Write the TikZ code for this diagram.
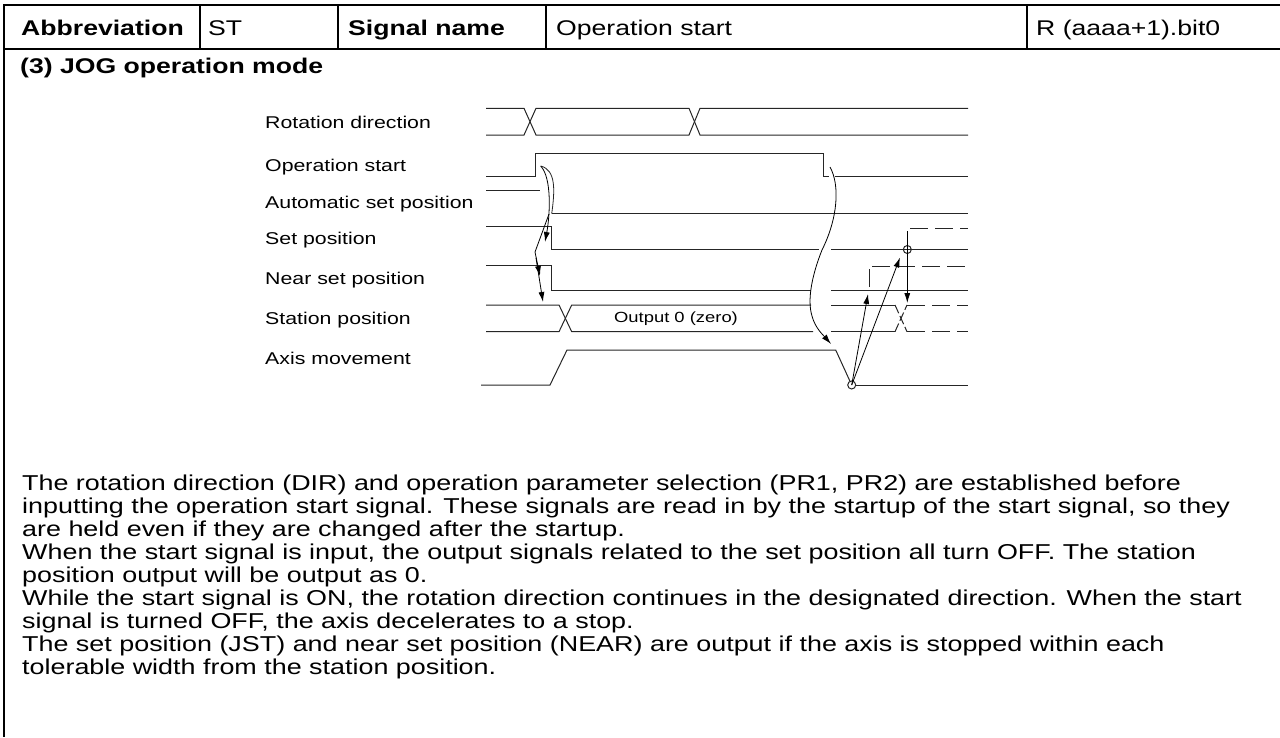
\documentclass[tikz,border=0pt]{standalone}
\usepackage{fontspec}
\setmainfont{Liberation Sans}
\usepackage{graphicx}
\usetikzlibrary{arrows.meta}
\newcommand{\sqz}[1]{\scalebox{1}[0.8]{#1}}
\begin{document}
\begin{tikzpicture}[x=1pt,y=-1pt,
  wave/.style={line width=1pt, black!85},
  frameline/.style={line width=2pt},
  divider/.style={line width=1.3pt},
  dashwave/.style={wave, dash pattern=on 18pt off 7pt},
  arr/.style={line width=0.8pt, -{Latex[length=10pt,width=6pt]}},
  hdr/.style={anchor=base west, inner sep=0pt, font=\fontsize{26.6}{30}\selectfont},
  hdrb/.style={anchor=base west, inner sep=0pt, font=\fontsize{26.6}{30}\selectfont\bfseries},
  lbl/.style={anchor=base west, inner sep=0pt, font=\fontsize{21.3}{24}\selectfont},
  bodytxt/.style={anchor=base west, inner sep=0pt, font=\fontsize{26.9}{30}\selectfont},
]
\useasboundingbox (0,0) rectangle (1280,737);
% frame
\draw[frameline] (1280,5) -- (4,5) -- (4,737);
\draw[frameline] (4,49) -- (1280,49);
\draw[divider] (200,5) -- (200,49);
\draw[divider] (338,5) -- (338,49);
\draw[divider] (546,5) -- (546,49);
\draw[divider] (1027,5) -- (1027,49);
\node[hdrb] (h1) at (21,35) {\sqz{Abbreviation}};
\node[hdr] (h2) at (208,35) {\sqz{ST}};
\node[hdrb] (h3) at (348,35) {\sqz{Signal name}};
\node[hdr] (h4) at (556,35) {\sqz{Operation start}};
\node[hdr] (h5) at (1036,35) {\sqz{R (aaaa+1).bit0}};
\node[hdrb] (title) at (20,73) {\sqz{(3) JOG operation mode}};
% labels
\node[lbl] (l1) at (265,128) {\sqz{Rotation direction}};
\node[lbl] (l2) at (265,171) {\sqz{Operation start}};
\node[lbl] (l3) at (265,208) {\sqz{Automatic set position}};
\node[lbl] (l4) at (265,244) {\sqz{Set position}};
\node[lbl] (l5) at (265,284) {\sqz{Near set position}};
\node[lbl] (l6) at (265,324) {\sqz{Station position}};
\node[lbl] (l7) at (265,364) {\sqz{Axis movement}};
% rotation direction
\draw[wave] (486,108.3) -- (524,108.3) -- (536,135) -- (689,135) -- (700,108.3) -- (968,108.3);
\draw[wave] (486,135) -- (524,135) -- (536,108.3) -- (689,108.3) -- (700,135) -- (968,135);
% operation start
\draw[wave] (486,176) -- (535.7,176) -- (535.7,153.3) -- (823.3,153.3) -- (823.3,176) -- (829,176);
\draw[wave] (835,176) -- (968,176);
% automatic set position
\draw[wave] (486,190.7) -- (540,190.7);
\draw[wave] (551.7,213.7) -- (968,213.7);
% set position
\draw[wave] (486,226.5) -- (551.2,226.5) -- (551.2,249.5) -- (819,249.5);
\draw[wave] (831,249.5) -- (968,249.5);
\draw[wave] (907.3,249.5) circle[radius=4];
\draw[dashwave] (910,228.3) -- (968,228.3);
% near set position
\draw[wave] (486,265.8) -- (551.2,265.8) -- (551.2,290.8) -- (811,290.8);
\draw[wave] (831,290.8) -- (968,290.8);
\draw[wave] (869.3,287) -- (869.3,268.5);
\draw[dashwave] (872,266) -- (968,266);
% station position
\draw[wave] (486,305) -- (559,305) -- (571.7,331.7) -- (813,331.7);
\draw[wave] (486,331.7) -- (559,331.7) -- (571.7,305) -- (811,305);
\draw[wave] (831,305) -- (895,305);
\draw[wave] (831,331.7) -- (895,331.7);
\draw[wave, dash pattern=on 9pt off 3pt] (895,305) -- (907,331.7);
\draw[wave, dash pattern=on 9pt off 3pt] (895,331.7) -- (907,305);
\draw[dashwave] (907,305) -- (968,305);
\draw[dashwave] (907,331.7) -- (968,331.7);
\node[inner sep=0pt, font=\fontsize{18.4}{20}\selectfont] (out) at (676,318.5) {\sqz{Output 0 (zero)}};
% axis movement
\draw[wave] (481,385) -- (550,385) -- (567,350) -- (835.7,350) -- (850,381.3);
\draw[wave] (851.7,385) circle[radius=4];
\draw[wave] (855.7,385) -- (968,385);
\coordinate (c1) at (851.7,385);
\coordinate (c2) at (907.3,249.5);
% arrows
\draw[arr] (c1) -- (868,294);
\draw[arr] (c1) -- (900,257.5);
\draw[arr] (907.3,231) -- (907.3,303);
\draw[arr] (830,167) .. controls (840,185) and (838,218) .. (822,250) .. controls (812,275) and (807,300) .. (812,316) .. controls (815,328) and (824,336) .. (831,344);
\draw[wave, line width=0.8pt] (540.7,166) .. controls (556,170) and (555,190) .. (551.7,213.7);
\draw[arr] (540.7,166) .. controls (552,178) and (550,215) .. (545,242);
\draw[arr] (549,214) -- (535,252) -- (540,276);
\draw[arr] (536,258) -- (543,302);
% body
\node[bodytxt] (b1) at (22,490) {\sqz{The rotation direction (DIR) and operation parameter selection (PR1, PR2) are established before}};
\node[bodytxt] (b2) at (22,513) {\sqz{inputting the operation start signal. These signals are read in by the startup of the start signal, so they}};
\node[bodytxt] (b3) at (22,536) {\sqz{are held even if they are changed after the startup.}};
\node[bodytxt] (b4) at (22,559) {\sqz{When the start signal is input, the output signals related to the set position all turn OFF. The station}};
\node[bodytxt] (b5) at (22,582) {\sqz{position output will be output as 0.}};
\node[bodytxt] (b6) at (22,605) {\sqz{While the start signal is ON, the rotation direction continues in the designated direction. When the start}};
\node[bodytxt] (b7) at (22,628) {\sqz{signal is turned OFF, the axis decelerates to a stop.}};
\node[bodytxt] (b8) at (22,651) {\sqz{The set position (JST) and near set position (NEAR) are output if the axis is stopped within each}};
\node[bodytxt] (b9) at (22,674) {\sqz{tolerable width from the station position.}};
\end{tikzpicture}
\end{document}
